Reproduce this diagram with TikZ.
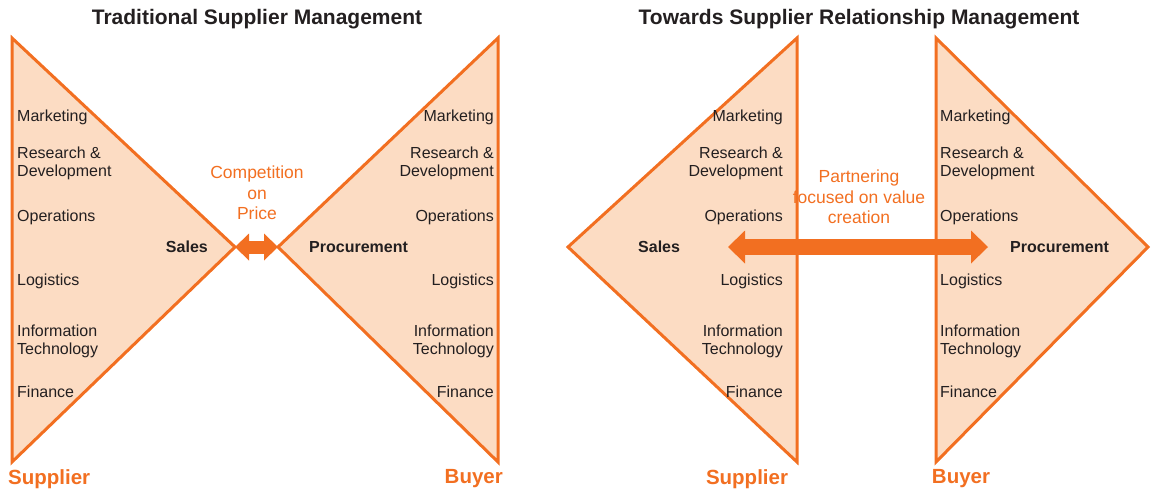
\documentclass[tikz,border=0pt]{standalone}
\usepackage{fontspec}
\setmainfont{Liberation Sans}
\usetikzlibrary{arrows.meta}
\definecolor{srmorange}{HTML}{F26F21}
\definecolor{srmpeach}{HTML}{FCDCC3}
\definecolor{srmtext}{HTML}{231F20}
\tikzset{
  wedge/.style={fill=srmpeach, draw=srmorange, line width=3pt, line join=miter},
  dept/.style={font=\fontsize{16}{18}\selectfont, text=srmtext, inner sep=0pt},
  role/.style={font=\bfseries\fontsize{16}{18}\selectfont, text=srmtext, inner sep=0pt},
  party/.style={font=\bfseries\fontsize{20.5}{22}\selectfont, text=srmorange, inner sep=0pt},
  heading/.style={font=\bfseries\fontsize{21}{24}\selectfont, text=srmtext, inner sep=0pt},
  note/.style={font=\fontsize{17.5}{20.5}\selectfont, text=srmorange, align=center, inner sep=0pt},
  link/.style={srmorange, line width=13pt},
}
\begin{document}
\begin{tikzpicture}[x=1pt,y=-1pt]
			\useasboundingbox (0,0) rectangle (1151,491);
			% traditional
			\node[heading] (tradtitle) at (257,19) {Traditional Supplier Management};
			\draw[wedge] (12,38) -- (235,247) -- (12,462) -- cycle;
			\draw[wedge] (498,38) -- (278,247) -- (498,462) -- cycle;
			\node[dept, anchor=west] (lsmkt) at (17,117) {Marketing};
			\node[dept, anchor=west, align=left] (lsrd) at (17,163) {Research \&\\Development};
			\node[dept, anchor=west] (lsops) at (17,217) {Operations};
			\node[dept, anchor=west] (lslog) at (17,281) {Logistics};
			\node[dept, anchor=west, align=left] (lsit) at (17,341) {Information\\Technology};
			\node[dept, anchor=west] (lsfin) at (17,392) {Finance};
			\node[dept, anchor=east] (lbmkt) at (494,117) {Marketing};
			\node[dept, anchor=east, align=right] (lbrd) at (494,163) {Research \&\\Development};
			\node[dept, anchor=east] (lbops) at (494,217) {Operations};
			\node[dept, anchor=east] (lblog) at (494,281) {Logistics};
			\node[dept, anchor=east, align=right] (lbit) at (494,341) {Information\\Technology};
			\node[dept, anchor=east] (lbfin) at (494,392) {Finance};
			\node[role, anchor=east] (lsales) at (208,247) {Sales};
			\node[role, anchor=west] (lproc) at (309,247) {Procurement};
			\node[note] (lnote) at (257,193) {Competition\\on\\Price};
			\coordinate (lsalestip) at (235,247);
			\coordinate (lproctip) at (278,247);
			\draw[link, shorten <=8pt, shorten >=8pt] (lsalestip) -- (lproctip);
			\draw[link, {Triangle[width=27pt,length=14pt,line width=0pt]}-{Triangle[width=27pt,length=14pt,line width=0pt]}] (lsalestip) -- (lproctip);
			\node[party, anchor=west] (lsupplier) at (8,479) {Supplier};
			\node[party, anchor=east] (lbuyer) at (503,479) {Buyer};
			% relationship
			\node[heading] (srmtitle) at (859,19) {Towards Supplier Relationship Management};
			\draw[wedge] (797,38) -- (568,247) -- (797,462) -- cycle;
			\draw[wedge] (936,38) -- (1148,247) -- (936,462) -- cycle;
			\node[dept, anchor=east] (rsmkt) at (783,117) {Marketing};
			\node[dept, anchor=east, align=right] (rsrd) at (783,163) {Research \&\\Development};
			\node[dept, anchor=east] (rsops) at (783,217) {Operations};
			\node[dept, anchor=east] (rslog) at (783,281) {Logistics};
			\node[dept, anchor=east, align=right] (rsit) at (783,341) {Information\\Technology};
			\node[dept, anchor=east] (rsfin) at (783,392) {Finance};
			\node[dept, anchor=west] (rbmkt) at (940,117) {Marketing};
			\node[dept, anchor=west, align=left] (rbrd) at (940,163) {Research \&\\Development};
			\node[dept, anchor=west] (rbops) at (940,217) {Operations};
			\node[dept, anchor=west] (rblog) at (940,281) {Logistics};
			\node[dept, anchor=west, align=left] (rbit) at (940,341) {Information\\Technology};
			\node[dept, anchor=west] (rbfin) at (940,392) {Finance};
			\node[role, anchor=west] (rsales) at (638,247) {Sales};
			\node[role, anchor=west] (rproc) at (1010,247) {Procurement};
			\node[note] (rnote) at (859,197) {Partnering\\focused on value\\creation};
			\coordinate (rsalestip) at (728,247);
			\coordinate (rproctip) at (988,247);
			\draw[link, line width=16pt, {Triangle[width=33pt,length=17pt,line width=0pt]}-{Triangle[width=33pt,length=17pt,line width=0pt]}] (rsalestip) -- (rproctip);
			\node[party] (rsupplier) at (747,479) {Supplier};
			\node[party] (rbuyer) at (961,479) {Buyer};
		\end{tikzpicture}
\end{document}
